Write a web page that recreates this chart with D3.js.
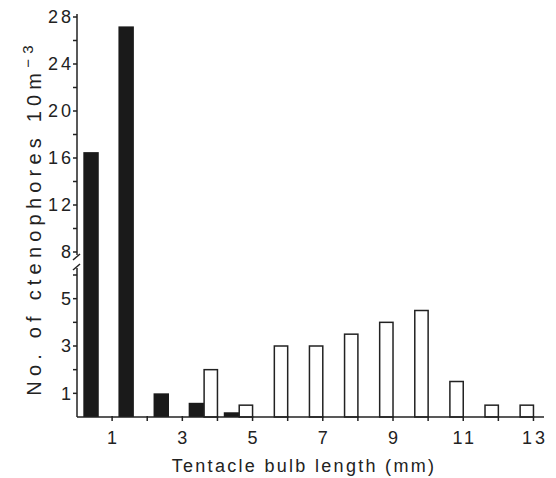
<!DOCTYPE html>
<html>
<head>
<meta charset="utf-8">
<script src="https://cdn.jsdelivr.net/npm/d3@7"></script>
<style>
  body { margin: 0; background: #fff; }
  text { font-family: "Liberation Sans", Arial, sans-serif; fill: #222; }
</style>
</head>
<body>
<div id="chart"></div>
<script>
// bins of tentacle bulb length, lower edge in mm
var binStart = [0, 1, 2, 3, 4, 5, 6, 7, 8, 9, 10, 11, 12];
var blackVals = [16.5, 27.2, 1.0, 0.6, 0.2, 0, 0, 0, 0, 0, 0, 0, 0];
var whiteVals = [0, 0, 0, 2.0, 0.5, 3.0, 3.0, 3.5, 4.0, 4.5, 1.5, 0.5, 0.5];
var xTicks = [1, 2, 3, 4, 5, 6, 7, 8, 9, 10, 11, 12, 13];
var xLabels = [1, 3, 5, 7, 9, 11, 13];
var yLowTicks = [1, 2, 3, 4, 5, 6];
var yLowLabels = [1, 3, 5];
var yHighTicks = [8, 10, 12, 14, 16, 18, 20, 22, 24, 26, 28];
var yHighLabels = [8, 12, 16, 20, 24, 28];

var w = 556, h = 478;
var svg = d3.select("#chart").append("svg")
  .attr("width", w)
  .attr("height", h);

var x = d3.scaleLinear().domain([0, 13.3]).range([77, 544]);
// broken axis: 0-6 on lower part, 8-28 squeezed on the upper part
var y = d3.scaleLinear().domain([0, 6, 8, 28]).range([417, 275, 252, 17]);

var bars = svg.append("g");

bars.selectAll("rect.black")
  .data(binStart.filter(function(d, i) { return blackVals[i] > 0; }))
  .enter().append("rect")
  .attr("class", "black")
  .attr("x", function(d) { return x(d + 0.18); })
  .attr("width", function(d) { return x(d + 0.62) - x(d + 0.18); })
  .attr("y", function(d) { return y(blackVals[d]); })
  .attr("height", function(d) { return y(0) - y(blackVals[d]); })
  .attr("fill", "#1a1a1a");

bars.selectAll("rect.white")
  .data(binStart.filter(function(d, i) { return whiteVals[i] > 0; }))
  .enter().append("rect")
  .attr("class", "white")
  .attr("x", function(d) { return x(d + 0.62); })
  .attr("width", function(d) { return x(d + 1.0) - x(d + 0.62); })
  .attr("y", function(d) { return y(whiteVals[d]); })
  .attr("height", function(d) { return y(0) - y(whiteVals[d]); })
  .attr("fill", "#fff")
  .attr("stroke", "#222")
  .attr("stroke-width", 1.5);

var ax = svg.append("g").attr("stroke", "#222").attr("stroke-width", 1.5);

// x axis
ax.append("line")
  .attr("x1", x(0)).attr("x2", x(13.3))
  .attr("y1", y(0)).attr("y2", y(0));
ax.selectAll("line.xt")
  .data(xTicks)
  .enter().append("line")
  .attr("class", "xt")
  .attr("x1", function(d) { return x(d); })
  .attr("x2", function(d) { return x(d); })
  .attr("y1", y(0) - 1)
  .attr("y2", y(0) + 4);

svg.selectAll("text.xl")
  .data(xLabels)
  .enter().append("text")
  .attr("class", "xl")
  .attr("x", function(d) { return x(d) + 1.5; })
  .attr("y", 444)
  .attr("text-anchor", "middle")
  .style("font-size", "18px")
  .style("letter-spacing", "3px")
  .text(function(d) { return d; });

// y axis, lower and upper segments
ax.append("line")
  .attr("x1", x(0)).attr("x2", x(0))
  .attr("y1", y(0)).attr("y2", 268);
ax.append("line")
  .attr("x1", x(0)).attr("x2", x(0))
  .attr("y1", 255).attr("y2", 14);

ax.selectAll("line.yt")
  .data(yLowTicks.concat(yHighTicks))
  .enter().append("line")
  .attr("class", "yt")
  .attr("x1", x(0) - 4)
  .attr("x2", x(0))
  .attr("y1", function(d) { return y(d); })
  .attr("y2", function(d) { return y(d); });

// break marks
ax.append("line").attr("x1", 73).attr("y1", 260).attr("x2", 80).attr("y2", 254);
ax.append("line").attr("x1", 73).attr("y1", 270).attr("x2", 80).attr("y2", 264);

svg.selectAll("text.yl")
  .data(yLowLabels.concat(yHighLabels))
  .enter().append("text")
  .attr("class", "yl")
  .attr("x", 74)
  .attr("y", function(d) { return y(d); })
  .attr("dy", "0.36em")
  .attr("text-anchor", "end")
  .style("font-size", "18px")
  .style("letter-spacing", "3px")
  .text(function(d) { return d; });

// axis titles
svg.append("text")
  .attr("x", 304)
  .attr("y", 472)
  .attr("text-anchor", "middle")
  .style("font-size", "18px")
  .style("letter-spacing", "2.3px")
  .text("Tentacle bulb length (mm)");

var yt = svg.append("text")
  .attr("transform", "translate(41,218) rotate(-90)")
  .attr("text-anchor", "middle")
  .style("font-size", "20px")
  .style("letter-spacing", "5.2px");
yt.append("tspan").text("No. of ctenophores 10m");
yt.append("tspan").attr("dy", "-0.55em").style("font-size", "15px").text("\u22123");
</script>
</body>
</html>
